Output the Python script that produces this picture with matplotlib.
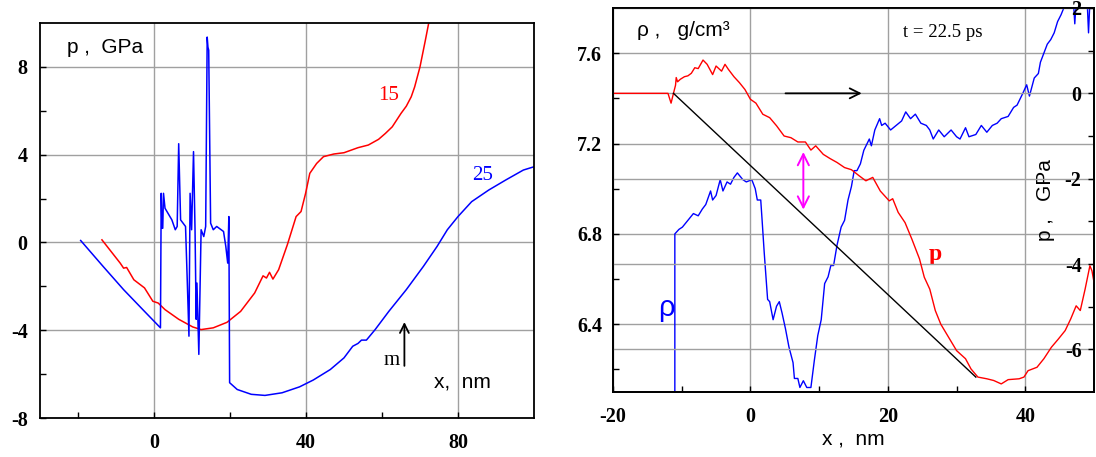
import numpy as np
import matplotlib
matplotlib.use("Agg")
import matplotlib.pyplot as plt
from matplotlib.ticker import FixedLocator

plt.rcParams['axes.unicode_minus'] = False

# ── left panel: pressure profiles, curves "15" and "25" ───────
x15 = [-13.7, -8.9, -8.0, -7.2, -5.3, -2.5, -0.3, 1.1, 2.9, 6.5, 10.2, 12.4,
       15.6, 19.2, 22.8, 26.5, 28.7, 29.6, 30.4, 31.3, 32.8, 35.1, 37.4, 38.7,
       39.9, 41.0, 42.8, 44.6, 47.3, 50.0, 53.7, 56.4, 59.1, 60.9, 62.7, 65.0,
       66.4, 67.7, 68.6, 70.0, 71.4, 72.3, 73.0]
p15 = [0.12, -0.94, -1.17, -1.14, -1.7, -2.07, -2.68, -2.76, -3.06, -3.5, -3.85,
       -3.97, -3.89, -3.64, -3.14, -2.3, -1.52, -1.62, -1.36, -1.67, -1.24, -0.1,
       1.18, 1.41, 2.24, 3.15, 3.6, 3.91, 4.03, 4.09, 4.32, 4.44, 4.7, 4.97, 5.27,
       5.88, 6.21, 6.64, 7.09, 8.0, 9.2, 10.0, 10.6]

x25 = [-19.3, -13.4, -8.0, -2.5, 1.7, 1.9, 2.1, 2.3, 2.5, 2.9, 4.7, 5.6, 6.1,
       6.5, 7.0, 8.3, 8.8, 9.2, 9.5, 9.9, 10.4, 10.8, 11.1, 11.3, 11.8, 12.4,
       13.1, 13.6, 14.0, 14.2, 14.4, 14.9, 15.6, 16.5, 18.3, 18.9, 19.4, 19.7,
       19.9, 21.9, 25.6, 29.2, 33.7, 38.3, 41.9, 46.4, 50.0, 52.3, 53.7, 54.6,
       55.9, 58.2, 61.8, 66.4, 70.9, 74.5, 77.2, 80.0, 83.6, 88.1, 92.6, 97.2,
       100.0]
p25 = [0.09, -1.09, -2.15, -3.14, -3.89, 2.24, 0.65, 0.65, 2.24, 1.56, 1.03,
       0.58, 0.73, 4.5, 1.03, 0.73, -2.0, -4.27, 2.24, 0.58, 4.14, 0.58, -3.5,
       -1.85, -5.1, 0.58, 0.27, 0.73, 9.36, 8.9, 8.76, 0.88, 0.58, 0.73, 0.5,
       -0.18, -0.94, 1.18, -6.39, -6.70, -6.92, -6.97, -6.85, -6.58, -6.27,
       -5.79, -5.26, -4.73, -4.6, -4.45, -4.45, -3.97, -3.14, -2.15, -1.09,
       -0.18, 0.58, 1.18, 1.86, 2.39, 2.85, 3.3, 3.45]

# ── right panel: t = 22.5 ps, pressure (right axis) and density (left axis)
xp = [-20.0, -12.0, -11.55, -11.2, -10.9, -10.8, -10.6, -10.2, -9.6, -9.1,
      -8.6, -8.1, -7.6, -6.9, -6.3, -5.5, -5.0, -4.2, -3.7, -3.2, -2.4, -1.6,
      -0.8, 0.0, 0.8, 1.8, 2.8, 3.8, 4.9, 5.9, 6.9, 8.0, 8.8, 9.5, 10.6, 11.6,
      12.6, 13.7, 14.7, 15.8, 16.8, 17.8, 18.9, 20.2, 20.7, 21.5, 22.5, 23.5,
      24.6, 25.3, 26.1, 26.9, 27.7, 28.7, 30.0, 31.3, 32.1, 33.1, 34.4, 35.4,
      36.5, 37.5, 39.1, 39.8, 40.4, 41.7, 42.7, 43.8, 44.8, 45.8, 46.6, 47.4,
      48.0, 48.7, 49.4, 49.7, 50.0]
pp = [0.0, 0.0, -0.23, 0.0, 0.19, 0.37, 0.27, 0.33, 0.39, 0.41, 0.47, 0.6,
      0.58, 0.78, 0.68, 0.44, 0.64, 0.52, 0.68, 0.56, 0.39, 0.25, 0.09, -0.14,
      -0.23, -0.49, -0.57, -0.76, -1.0, -1.04, -1.14, -1.14, -1.33, -1.23,
      -1.43, -1.53, -1.62, -1.74, -1.79, -1.93, -2.05, -1.97, -2.29, -2.52,
      -2.47, -2.79, -3.03, -3.42, -3.88, -4.31, -4.59, -5.09, -5.41, -5.68,
      -6.03, -6.22, -6.46, -6.65, -6.69, -6.73, -6.81, -6.71, -6.69, -6.65,
      -6.5, -6.42, -6.22, -5.95, -5.76, -5.56, -5.29, -4.98, -5.09, -4.59,
      -4.04, -4.16, -4.43]

xr = [-11.0, -11.0, -10.4, -9.9, -9.1, -8.3, -7.6, -7.0, -6.5, -5.8, -5.5,
      -5.0, -4.4, -4.0, -3.4, -2.9, -2.4, -1.9, -1.1, -0.6, 0.2, 0.7, 1.0, 1.5,
      1.7, 2.0, 2.5, 2.8, 3.3, 3.8, 4.2, 4.6, 5.1, 5.6, 6.2, 6.4, 6.9, 7.2, 7.7,
      8.2, 8.8, 9.3, 9.8, 10.3, 10.8, 11.3, 11.7, 12.1, 12.6, 13.2, 13.7, 14.2,
      14.7, 15.1, 15.5, 16.0, 16.5, 17.3, 17.6, 18.1, 18.8, 19.1, 19.6, 20.4,
      21.2, 22.0, 22.6, 23.3, 24.0, 24.8, 25.6, 26.1, 26.6, 27.4, 28.2, 29.2,
      30.0, 30.5, 31.3, 31.8, 32.8, 33.6, 34.4, 35.2, 35.9, 36.5, 37.5, 38.3,
      38.8, 39.6, 40.2, 40.6, 41.3, 41.9, 42.2, 42.7, 43.2, 43.7, 44.2, 44.7,
      45.2, 45.6, 46.0, 46.8, 47.0, 47.2, 47.4, 48.7, 49.0, 49.2, 49.4, 50.0]
rho = [6.0, 6.80, 6.82, 6.83, 6.86, 6.89, 6.88, 6.91, 6.93, 6.99, 6.95, 6.97,
       7.04, 6.99, 7.03, 7.02, 7.05, 7.07, 7.04, 7.03, 7.04, 7.00, 6.95, 6.95,
       6.86, 6.72, 6.51, 6.50, 6.42, 6.48, 6.50, 6.45, 6.38, 6.30, 6.23, 6.16,
       6.16, 6.12, 6.15, 6.12, 6.12, 6.24, 6.35, 6.42, 6.58, 6.61, 6.66, 6.66,
       6.75, 6.83, 6.86, 6.95, 7.01, 7.08, 7.08, 7.11, 7.17, 7.22, 7.19, 7.26,
       7.31, 7.28, 7.29, 7.26, 7.28, 7.30, 7.34, 7.31, 7.33, 7.29, 7.28, 7.26,
       7.22, 7.26, 7.23, 7.26, 7.23, 7.22, 7.27, 7.23, 7.24, 7.28, 7.25, 7.28,
       7.29, 7.31, 7.32, 7.36, 7.37, 7.42, 7.46, 7.41, 7.49, 7.51, 7.56, 7.60,
       7.64, 7.66, 7.69, 7.74, 7.77, 7.80, 7.83, 7.83, 7.83, 7.73, 7.83, 7.83,
       7.83, 7.69, 7.83, 7.83]

# diagonal guide line (pressure axis units)
diag_x = [-11.2, 32.8]
diag_p = [0.0, -6.65]

RED, BLUE = '#ff0000', '#0000ff'
GRID = '#a0a0a0'
SERIF = 'Liberation Serif'
SANS = 'Liberation Sans'
TICKFONT = dict(family=SERIF, weight='bold', size=14.5)

fig = plt.figure(figsize=(10.96, 4.57), dpi=100)
fig.patch.set_facecolor('white')


def style_axis(a, xmaj, xmin, ymaj, ymin, pad_y=9.0):
    a.xaxis.set_major_locator(FixedLocator(xmaj))
    a.xaxis.set_minor_locator(FixedLocator(xmin))
    a.yaxis.set_major_locator(FixedLocator(ymaj))
    a.yaxis.set_minor_locator(FixedLocator(ymin))
    a.grid(True, which='major', color=GRID, lw=1.0)
    a.set_axisbelow(True)
    a.tick_params(which='both', direction='in', length=4, width=1,
                  top=False, right=False)
    a.tick_params(axis='x', pad=11)
    a.tick_params(axis='y', pad=pad_y)
    for lab in a.get_xticklabels() + a.get_yticklabels():
        lab.set_fontproperties(TICKFONT)
    for sp in a.spines.values():
        sp.set_linewidth(1.3)


# ── left panel ────────────────────────────────────────────────
ax1 = fig.add_axes([0.0365, 0.0853, 0.4507, 0.8643])
ax1.plot(x15, p15, color=RED, lw=1.1)
ax1.plot(x25, p25, color=BLUE, lw=1.1)
ax1.set_xlim(-30, 100)
ax1.set_ylim(-8, 10)
ax1.set_xticks([0, 40, 80])
ax1.set_yticks([-8, -4, 0, 4, 8])
style_axis(ax1, [0, 40, 80], [-20, 20, 60], [-8, -4, 0, 4, 8], [-6, -2, 2, 6])

ax1.text(-22.8, 8.9, 'p ,  GPa', family=SANS, fontsize=15, va='center')
ax1.text(58.9, 6.7, '15', family=SERIF, fontsize=15, color=RED, va='center')
ax1.text(83.8, 3.03, '25', family=SERIF, fontsize=15, color=BLUE, va='center')
ax1.text(60.3, -5.38, 'm', family=SERIF, fontsize=15, va='center')
ax1.annotate('', xy=(65.9, -3.5), xytext=(65.9, -5.75),
             arrowprops=dict(arrowstyle='->', color='black', lw=1.3,
                             mutation_scale=16))
ax1.text(73.8, -6.36, 'x,  nm', family=SANS, fontsize=15, va='center')

# ── right panel ───────────────────────────────────────────────
ax2 = fig.add_axes([0.5593, 0.1422, 0.4389, 0.8403])
ax2.set_xlim(-20, 50)
ax2.set_ylim(6.1, 7.8)
ax2.set_xticks([-20, 0, 20, 40])
ax2.set_yticks([6.4, 6.8, 7.2, 7.6])
ax2.set_yticklabels(['6.4', '6.8', '7.2', '7.6'])
style_axis(ax2, [-20, 0, 20, 40], [-10, 10, 30], [6.4, 6.8, 7.2, 7.6],
           [6.2, 6.6, 7.0, 7.4], pad_y=8)
ax2.plot(xr, rho, color=BLUE, lw=1.0)

ax3 = ax2.twinx()
ax3.set_ylim(-7, 2)
ax3.yaxis.set_major_locator(FixedLocator([-6, -4, -2, 0, 2]))
ax3.yaxis.set_minor_locator(FixedLocator([-5, -3, -1, 1]))
ax3.grid(True, which='major', axis='y', color=GRID, lw=1.0)
ax3.tick_params(axis='y', which='both', direction='in', length=4, width=1,
                pad=-9)
for lab in ax3.get_yticklabels():
    lab.set_fontproperties(TICKFONT)
    lab.set_horizontalalignment('right')
for sp in ax3.spines.values():
    sp.set_linewidth(1.3)
ax3.plot(xp, pp, color=RED, lw=1.0)
ax3.plot(diag_x, diag_p, color='black', lw=1.0)
ax3.annotate('', xy=(16.6, 0.0), xytext=(4.7, 0.0),
             arrowprops=dict(arrowstyle='->', color='black', lw=1.3,
                             mutation_scale=18))
ax3.annotate('', xy=(7.7, -1.31), xytext=(7.7, -2.79),
             arrowprops=dict(arrowstyle='<->', color='#ff00ff', lw=1.4,
                             mutation_scale=20))

ax2.text(-16.5, 7.70, 'ρ ,   g/cm³', family=SANS, fontsize=15, va='center')
ax2.text(22.2, 7.69, 't = 22.5 ps', family=SERIF, fontsize=13.5, va='center')
ax2.text(25.9, 6.71, 'p', family=SERIF, fontsize=17, weight='bold',
         color=RED, va='center')
ax2.text(-13.4, 6.47, 'ρ', family=SANS, fontsize=21, color=BLUE, va='center')
ax2.text(43.0, 6.95, 'p ,   GPa', family=SANS, fontsize=15, rotation=90,
         ha='center', va='center')
ax2.text(0.5, -0.122, 'x ,  nm', transform=ax2.transAxes, family=SANS,
         fontsize=15, ha='center', va='center')

fig.savefig('out.png', dpi=100)
